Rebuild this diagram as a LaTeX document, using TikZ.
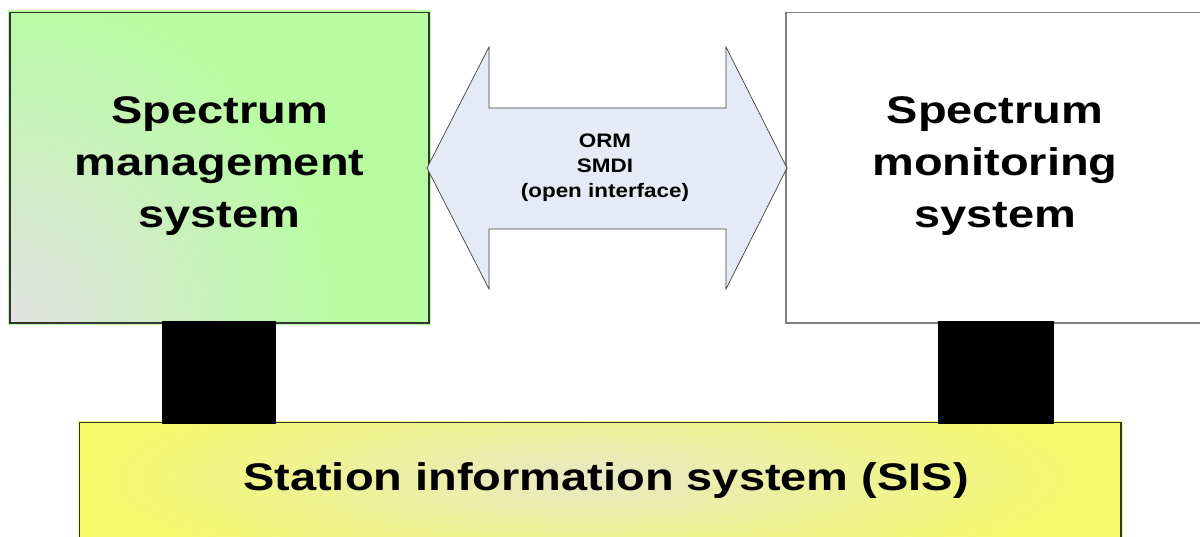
\documentclass[tikz,border=0pt]{standalone}
\usepackage{fontspec}
\setmainfont{Liberation Sans}
\usepackage{graphicx}
\definecolor{smsgreen}{HTML}{B8FCA2}
\definecolor{cornergray}{HTML}{E2E2E2}
\definecolor{sisyellow}{HTML}{F6FA68}
\definecolor{sislight}{HTML}{E7E9C6}
\definecolor{arrowfill}{HTML}{E6EAF6}
\definecolor{boxgray}{HTML}{808080}
\begin{document}
\begin{tikzpicture}[x=1pt,y=-1pt,
  bigtext/.style={font=\fontsize{38.5}{52}\selectfont\bfseries, inner sep=0pt},
  smalltext/.style={font=\fontsize{19.5}{25}\selectfont\bfseries, inner sep=0pt},
  sysbox/.style={line width=1.2pt, minimum width=419pt, minimum height=310.5pt, inner sep=0pt},
  linkblock/.style={fill=black, minimum width=114pt, minimum height=103pt, inner sep=0pt},
  iface/.style={fill=arrowfill, draw=black!75, line width=0.7pt, line join=miter}]
\clip (0,0) rectangle (1200,537);
\fill[white] (0,0) rectangle (1200,537);

% Spectrum management system (green, shaded)
\fill[smsgreen] (7.5,10) rectangle (431,325);
\begin{scope}
  \clip (10,12.5) rectangle (429,323);
  \shade[inner color=cornergray, outer color=smsgreen] (10,323) circle (330pt);
\end{scope}
\node[sysbox, draw=black!80] (sms) at (219.5,167.75) {};

% Spectrum monitoring system
\node[sysbox, draw=boxgray, fill=white, minimum width=420pt] (smon) at (996,167.75) {};

% Open interface double arrow
\coordinate (ltip) at (427,168);
\coordinate (rtip) at (787,168);
\draw[iface] (ltip) -- (489,47) -- (489,108) -- (726,108) -- (726,47) -- (rtip)
  -- (726,289) -- (726,229) -- (489,229) -- (489,289) -- cycle;
\node[smalltext] (ifacel) at (605,168) {\scalebox{1.15}[1]{\begin{tabular}{@{}c@{}}ORM\\SMDI\\(open interface)\end{tabular}}};

% Station information system (yellow, shaded)
\fill[sisyellow] (77.5,420.5) rectangle (1123,560);
\begin{scope}
  \clip (79.5,422.5) rectangle (1121,560);
  \shade[inner color=sislight, outer color=sisyellow] (590,478) ellipse (520pt and 110pt);
\end{scope}
\node[line width=1.2pt, draw=black!80, minimum width=1041.5pt, minimum height=137.5pt, inner sep=0pt] (sis) at (600.25,491.25) {};

% Link blocks
\node[linkblock] (lk1) at (219,372.5) {};
\node[linkblock, minimum width=116pt] (lk2) at (996,372.5) {};

% Labels
\node[bigtext] (smsl) at (219.5,165) {\scalebox{1.22}[1]{\begin{tabular}{@{}c@{}}Spectrum\\management\\system\end{tabular}}};
\node[bigtext] (smonl) at (995,165) {\scalebox{1.22}[1]{\begin{tabular}{@{}c@{}}Spectrum\\monitoring\\system\end{tabular}}};
\node[bigtext, anchor=base] (sisl) at (606,490) {\scalebox{1.22}[1]{Station information system (SIS)}};
\end{tikzpicture}
\end{document}
